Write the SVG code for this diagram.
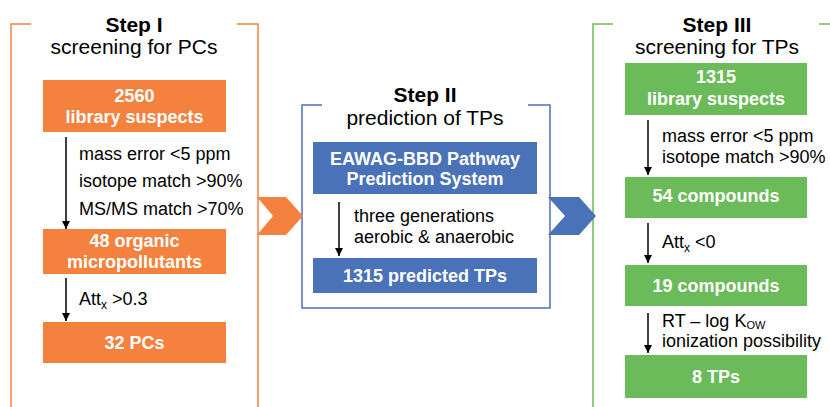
<svg xmlns="http://www.w3.org/2000/svg" width="830" height="407" viewBox="0 0 830 407">
<defs>
<marker id="ah" viewBox="0 0 10 10" refX="10" refY="5" markerWidth="8" markerHeight="8" markerUnits="userSpaceOnUse" orient="auto"><path d="M0,0 L10,5 L0,10 z" fill="#000"/></marker>
</defs>
<style>
text{font-family:"Liberation Sans",Arial,sans-serif;}
.ttl{font-size:21px;fill:#000;text-anchor:middle;}
.b{font-weight:bold;}
.bx{font-size:18px;font-weight:bold;fill:#fff;text-anchor:middle;}
.lb{font-size:18px;fill:#000;}
.sub{font-size:12px;}
.or{fill:#F4823E;}
.bl{fill:#4A72B8;}
.gr{fill:#6CBB5A;}
.arr{stroke:#000;stroke-width:1.5;fill:none;marker-end:url(#ah);}
</style>
<rect width="830" height="407" fill="#fff"/>
<g id="frames" fill="none" stroke-width="1.5">
<path d="M31,24 H11 V407 M237,24 H258 V407" stroke="#F4823E"/>
<path d="M322,105 H302 V308 H550 V105 H528" stroke="#4A72B8"/>
<path d="M613,24 H593 V407 M819,24 H830" stroke="#6CBB5A"/>
</g>
<g id="titles">
<text class="ttl b" x="134" y="32">Step I</text>
<text class="ttl" x="134" y="54">screening for PCs</text>
<text class="ttl b" x="425" y="102">Step II</text>
<text class="ttl" x="425" y="125">prediction of TPs</text>
<text class="ttl b" x="717" y="32">Step III</text>
<text class="ttl" x="717" y="54">screening for TPs</text>
</g>
<g id="chevrons">
<path class="or" d="M257,197 H286 L303,216 L286,235 H257 L273,216 z"/>
<path class="bl" d="M548,197 H579 L596,216 L579,235 H548 L565,216 z"/>
</g>
<g id="n1"><rect class="or" x="43" y="80" width="183" height="52"/><text class="bx" x="134.5" y="102">2560</text><text class="bx" x="134.5" y="123">library suspects</text></g>
<g id="n2"><rect class="or" x="43" y="229" width="183" height="45"/><text class="bx" x="134.5" y="247">48 organic</text><text class="bx" x="134.5" y="268">micropollutants</text></g>
<g id="n3"><rect class="or" x="43" y="322" width="183" height="41"/><text class="bx" x="134.5" y="349">32 PCs</text></g>
<g id="n4"><rect class="bl" x="313" y="142" width="224" height="52"/><text class="bx" x="425" y="165">EAWAG-BBD Pathway</text><text class="bx" x="425" y="185">Prediction System</text></g>
<g id="n5"><rect class="bl" x="313" y="258" width="224" height="35"/><text class="bx" x="425" y="282">1315 predicted TPs</text></g>
<g id="n6"><rect class="gr" x="625" y="63" width="182" height="52"/><text class="bx" x="716" y="83">1315</text><text class="bx" x="716" y="105">library suspects</text></g>
<g id="n7"><rect class="gr" x="625" y="177" width="182" height="41"/><text class="bx" x="716" y="202">54 compounds</text></g>
<g id="n8"><rect class="gr" x="625" y="265" width="182" height="41"/><text class="bx" x="716" y="292">19 compounds</text></g>
<g id="n9"><rect class="gr" x="625" y="355" width="182" height="43"/><text class="bx" x="716" y="383">8 TPs</text></g>
<g id="connectors">
<line class="arr" x1="66" y1="137" x2="66" y2="229"/>
<line class="arr" x1="66" y1="278" x2="66" y2="321"/>
<line class="arr" x1="339" y1="202" x2="339" y2="256"/>
<line class="arr" x1="648" y1="120" x2="648" y2="175"/>
<line class="arr" x1="648" y1="223" x2="648" y2="263"/>
<line class="arr" x1="648" y1="313" x2="648" y2="353"/>
</g>
<g id="labels">
<text class="lb" x="79" y="160">mass error &lt;5 ppm</text>
<text class="lb" x="79" y="187">isotope match &gt;90%</text>
<text class="lb" x="79" y="215">MS/MS match &gt;70%</text>
<text class="lb" x="79" y="305">Att<tspan class="sub" dy="4">x</tspan><tspan dy="-4"> &gt;0.3</tspan></text>
<text class="lb" x="354" y="222">three generations</text>
<text class="lb" x="354" y="243">aerobic &amp; anaerobic</text>
<text class="lb" x="662" y="142">mass error &lt;5 ppm</text>
<text class="lb" x="662" y="163">isotope match &gt;90%</text>
<text class="lb" x="662" y="248">Att<tspan class="sub" dy="4">x</tspan><tspan dy="-4"> &lt;0</tspan></text>
<text class="lb" x="662" y="327">RT – log K<tspan style="font-size:11px" dy="2">OW</tspan></text>
<text class="lb" x="662" y="347">ionization possibility</text>
</g>
</svg>
